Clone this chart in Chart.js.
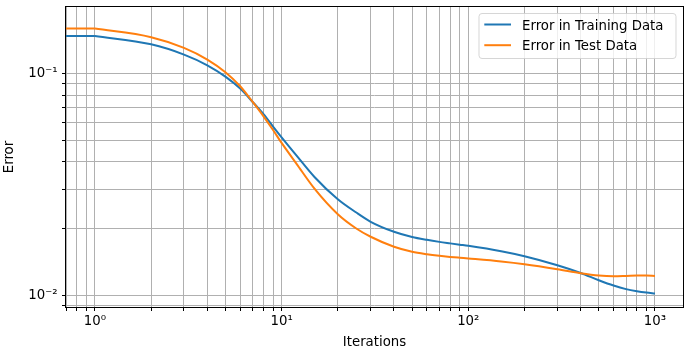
<!DOCTYPE html>
<html><head><meta charset="utf-8">
<script src="https://cdn.jsdelivr.net/npm/chart.js@4/dist/chart.umd.min.js"></script>
<style>html,body{margin:0;padding:0;background:#fff}canvas{display:block}</style>
</head><body>
<canvas id="c" width="690" height="355" style="width:690px;height:355px"></canvas>
<script>
// iteration 0 cannot sit on a log axis; 0.5 stands in for it (off the left edge)
const iterations = [0.5, 1, 2, 3, 4, 5, 6, 7, 8, 9, 10,
  12, 15, 20, 25, 30, 40, 50, 60, 70, 80, 90,
  100, 150, 200, 300, 400, 500, 600, 700, 800, 900, 1000];
const trainError = [0.1477, 0.1477, 0.1355, 0.1218, 0.1090, 0.0969, 0.0856, 0.0745, 0.0656, 0.0577, 0.0516,
  0.0428, 0.0342, 0.02715, 0.02372, 0.02150, 0.01938, 0.01836, 0.01782, 0.01745, 0.01718, 0.01695,
  0.01675, 0.01583, 0.01503, 0.01369, 0.01264, 0.01172, 0.01109, 0.01069, 0.01046, 0.01031, 0.01021];
const testError = [0.1595, 0.1595, 0.1458, 0.1305, 0.1156, 0.1014, 0.0877, 0.0745, 0.0642, 0.0557, 0.0487,
  0.0393, 0.0303, 0.02324, 0.02010, 0.01840, 0.01659, 0.01575, 0.01535, 0.01510, 0.01493, 0.01480,
  0.01469, 0.01424, 0.01384, 0.01314, 0.01260, 0.01230, 0.01221, 0.01225, 0.01230, 0.01230, 0.01225];
const seriesLabels = ['Error in Training Data', 'Error in Test Data'];
const seriesColors = ['#1f77b4', '#ff7f0e'];

const xMajorTicks = [1, 10, 100, 1000];
const xMajorLabels = ['10\u2070', '10\u00b9', '10\u00b2', '10\u00b3'];
const yMajorTicks = [0.01, 0.1];
const yMajorLabels = ['10\u207b\u00b2', '10\u207b\u00b9'];

const FONT = {family: "'DejaVu Sans', sans-serif", size: 13.3};

function logTicks(min, max) {
  const out = [];
  for (let e = Math.floor(Math.log10(min)); e <= Math.ceil(Math.log10(max)); e++) {
    for (let m = 1; m <= 9; m++) {
      const v = parseFloat((m * Math.pow(10, e)).toPrecision(6));
      if (v >= min && v <= max) out.push(v);
    }
  }
  return out;
}
function labelFor(v, ticks, labels) {
  const i = ticks.findIndex(t => Math.abs(t - v) / t < 1e-9);
  return i >= 0 ? labels[i] : '';
}

const framePlugin = {
  id: 'frame',
  afterDatasetsDraw(chart) {
    const {ctx, chartArea: a} = chart;
    ctx.save();
    ctx.strokeStyle = '#000';
    ctx.lineWidth = 1;
    ctx.strokeRect(a.left - 0.5, a.top - 0.5, a.right - a.left + 1, a.bottom - a.top + 1);
    // legend (upper right, inside the axes)
    const w = 197, h = 45;
    const x0 = a.right - 7 - w, y0 = a.top + 6.5;
    const r = 3;
    ctx.beginPath();
    ctx.moveTo(x0 + r, y0);
    ctx.arcTo(x0 + w, y0, x0 + w, y0 + h, r);
    ctx.arcTo(x0 + w, y0 + h, x0, y0 + h, r);
    ctx.arcTo(x0, y0 + h, x0, y0, r);
    ctx.arcTo(x0, y0, x0 + w, y0, r);
    ctx.closePath();
    ctx.fillStyle = 'rgba(255,255,255,0.8)';
    ctx.fill();
    ctx.strokeStyle = 'rgba(204,204,204,0.8)';
    ctx.lineWidth = 1;
    ctx.stroke();
    ctx.font = FONT.size + 'px ' + FONT.family;
    ctx.textBaseline = 'alphabetic';
    ctx.textAlign = 'left';
    seriesLabels.forEach((label, i) => {
      const cy = y0 + 11 + i * 20.7;
      ctx.strokeStyle = seriesColors[i];
      ctx.lineWidth = 2;
      ctx.beginPath();
      ctx.moveTo(x0 + 5.3, cy);
      ctx.lineTo(x0 + 32, cy);
      ctx.stroke();
      ctx.fillStyle = '#000';
      ctx.fillText(label, x0 + 43, cy + 5);
    });
    ctx.restore();
  }
};

const trainPts = iterations.map((x, i) => ({x, y: trainError[i]}));
const testPts = iterations.map((x, i) => ({x, y: testError[i]}));
const lineStyle = {borderWidth: 2, pointRadius: 0, fill: false, clip: 0};

new Chart(document.getElementById('c'), {
  type: 'line',
  data: {
    datasets: [
      // flat lead-in from iteration 0 to 1
      Object.assign({label: seriesLabels[0], data: trainPts.slice(0, 2), borderColor: seriesColors[0],
        backgroundColor: seriesColors[0], tension: 0, order: 2}, lineStyle),
      Object.assign({label: seriesLabels[0], data: trainPts.slice(1), borderColor: seriesColors[0],
        backgroundColor: seriesColors[0], cubicInterpolationMode: 'monotone', order: 2}, lineStyle),
      Object.assign({label: seriesLabels[1], data: testPts.slice(0, 2), borderColor: seriesColors[1],
        backgroundColor: seriesColors[1], tension: 0, order: 1}, lineStyle),
      Object.assign({label: seriesLabels[1], data: testPts.slice(1), borderColor: seriesColors[1],
        backgroundColor: seriesColors[1], cubicInterpolationMode: 'monotone', order: 1}, lineStyle)
    ]
  },
  options: {
    responsive: false,
    animation: false,
    events: [],
    layout: {padding: {left: 0, right: 7, top: 7, bottom: 0}},
    plugins: {legend: {display: false}, tooltip: {enabled: false}},
    scales: {
      x: {
        type: 'logarithmic', min: 0.708, max: 1413,
        afterBuildTicks: (axis) => { axis.ticks = logTicks(axis.min, axis.max).map(v => ({value: v})); },
        afterFit: (axis) => { axis.height = 48; axis.paddingLeft = 0; axis.paddingRight = 0; },
        grid: {color: '#b0b0b0', lineWidth: 1, drawTicks: true, tickLength: 4, tickColor: '#000'},
        border: {display: false},
        ticks: {autoSkip: false, maxRotation: 0, minRotation: 0, padding: 3, color: '#000', font: FONT,
          callback: (v) => labelFor(v, xMajorTicks, xMajorLabels)},
        title: {display: true, text: 'Iterations', color: '#000', font: FONT, padding: {top: 0, bottom: 4}}
      },
      y: {
        type: 'logarithmic', min: 0.00888, max: 0.1995,
        afterBuildTicks: (axis) => { axis.ticks = logTicks(axis.min, axis.max).map(v => ({value: v})); },
        afterFit: (axis) => { axis.width = 66; axis.paddingTop = 0; axis.paddingBottom = 0; },
        grid: {color: '#b0b0b0', lineWidth: 1, drawTicks: true, tickLength: 4, tickColor: '#000'},
        border: {display: false},
        ticks: {autoSkip: false, padding: 4.5, color: '#000', font: FONT,
          callback: (v) => labelFor(v, yMajorTicks, yMajorLabels)},
        title: {display: true, text: 'Error', color: '#000', font: FONT, padding: {top: 2, bottom: 0}}
      }
    }
  },
  plugins: [framePlugin]
});
</script>
</body></html>
